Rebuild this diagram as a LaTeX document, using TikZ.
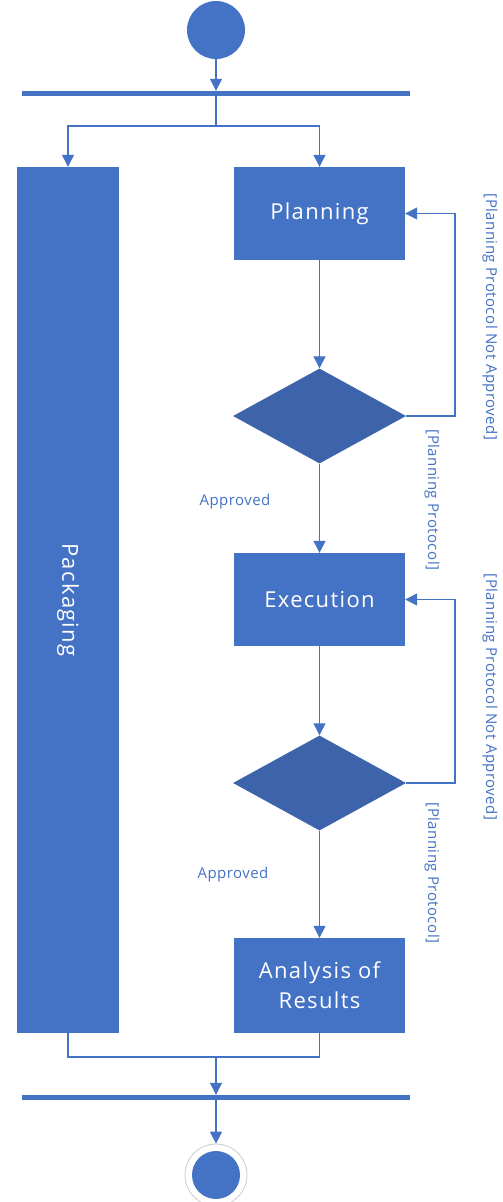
\documentclass[tikz,border=0pt]{standalone}
\usepackage{fontspec}
\setmainfont{Open Sans}
\newfontfamily\boxfont[LetterSpace=6]{Open Sans}
\newfontfamily\guardfont[LetterSpace=3]{Open Sans}
\usetikzlibrary{arrows.meta,shapes.geometric}
\definecolor{uiblue}{HTML}{4472C4}
\definecolor{gateblue}{HTML}{3D64AA}
\begin{document}
\begin{tikzpicture}[x=1pt,y=-1pt,
  flow/.style={draw=uiblue, line width=1.3pt, -{Triangle[width=12pt,length=12pt]}},
  link/.style={draw=uiblue, line width=1.3pt},
  action/.style={fill=uiblue, text=white, minimum width=171pt, minimum height=93pt,
    inner sep=0pt, align=center, font=\boxfont\fontsize{22}{30}\selectfont},
  gate/.style={diamond, fill=gateblue, minimum width=173pt, minimum height=95pt, inner sep=0pt},
  bar/.style={fill=uiblue, minimum width=388pt, minimum height=5pt, inner sep=0pt},
  guard/.style={text=uiblue, font=\guardfont\fontsize{15}{18}\selectfont, inner sep=0pt}
]
\useasboundingbox (0,0) rectangle (503,1202);

% start, fork
\node[circle, fill=uiblue, minimum size=58pt, inner sep=0pt] (start) at (216,30) {};
\node[bar] (fork) at (216,93.5) {};
\coordinate (split) at (216,126);

% parallel action and main flow
\node[fill=uiblue, minimum width=102pt, minimum height=866pt, inner sep=0pt] (pack) at (68,600) {};
\node[text=white, rotate=-90, font=\boxfont\fontsize{22}{26}\selectfont] (packlabel) at (pack.center) {Packaging};

\node[action] (plan) at (319.5,213.5) {Planning};
\node[gate] (d1) at (319.5,416) {};
\node[action] (exec) at (319.5,599.5) {Execution};
\node[gate] (d2) at (319.5,783) {};
\node[action, minimum height=95pt] (anal) at (319.5,985.5) {Analysis of\\Results};

\coordinate (loop1) at (455,300);
\coordinate (loop2) at (455,690);

% join, end
\coordinate (merge) at (216,1057);
\node[bar] (join) at (216,1097.5) {};
\node[circle, draw=black!20, line width=0.8pt, fill=white, minimum size=62pt, inner sep=0pt] (end) at (216,1175) {};
\node[circle, fill=uiblue, minimum size=48pt, inner sep=0pt] (endcore) at (end.center) {};

% connectors
\draw[flow] (start) -- (fork);
\draw[link] (fork.south) -- (split);
\draw[flow] (split) -| (pack.north);
\draw[flow] (split) -| (plan.north);

\draw[flow] (plan) -- (d1);
\draw[flow] (d1.east) -| (loop1) |- (plan.east);
\draw[flow] (d1) -- (exec);
\draw[flow] (exec) -- (d2);
\draw[flow] (d2.east) -| (loop2) |- (exec.east);
\draw[flow] (d2) -- (anal);

\draw[link] (pack.south) |- (merge);
\draw[link] (anal.south) |- (merge);
\draw[flow] (merge) -- (join);
\draw[flow] (join) -- (end);

% guard labels
\node[guard] (ok1) at (235,502) {Approved};
\node[guard] (ok2) at (233,875) {Approved};
\node[guard, rotate=-90] (no1) at (490,317) {[Planning Protocol Not Approved]};
\node[guard, rotate=-90] (p1) at (432,500) {[Planning Protocol]};
\node[guard, rotate=-90] (no2) at (490,697) {[Planning Protocol Not Approved]};
\node[guard, rotate=-90] (p2) at (432,873) {[Planning Protocol]};
\end{tikzpicture}
\end{document}
